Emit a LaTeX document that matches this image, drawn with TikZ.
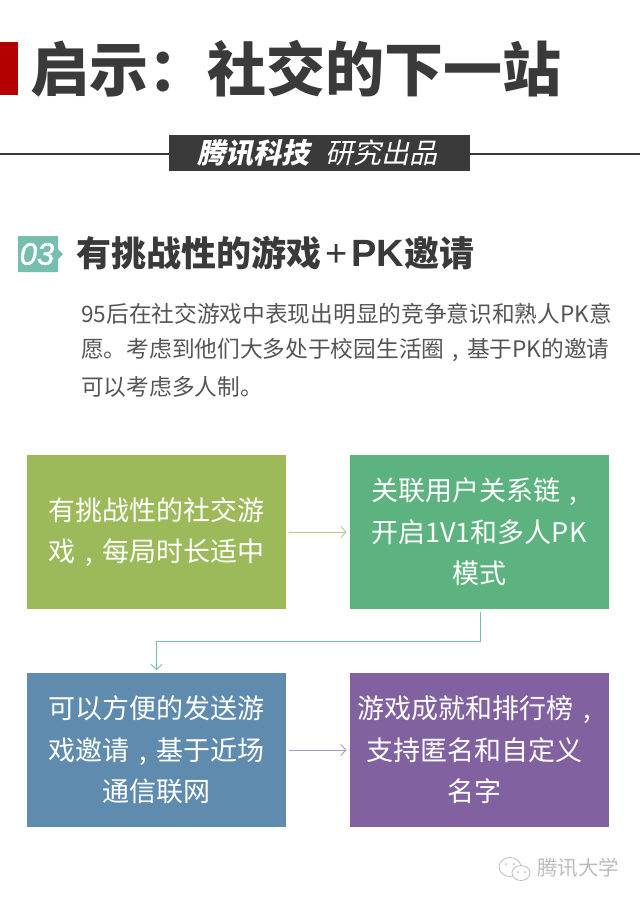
\documentclass[tikz,border=0pt]{standalone}
\usepackage{fontspec}
\setmainfont{Noto Sans CJK SC}
\newfontfamily\slantfont[FakeSlant=0.22, BoldFeatures={FakeSlant=0.22}]{Noto Sans CJK SC}
\newfontfamily\latinfont{Liberation Sans}
\newfontfamily\badgefont[ItalicFeatures={FakeBold=1.2}]{Liberation Sans}
\usetikzlibrary{arrows.meta}
\definecolor{titlegray}{HTML}{3A3A3A}
\definecolor{bodygray}{HTML}{555555}
\definecolor{barred}{HTML}{B50000}
\definecolor{badgeteal}{HTML}{76BFAE}
\definecolor{boxolive}{HTML}{9CBA59}
\definecolor{boxgreen}{HTML}{5CB37F}
\definecolor{boxblue}{HTML}{5F8BAE}
\definecolor{boxpurple}{HTML}{8161A0}
\definecolor{markgray}{HTML}{BDBDBD}
\newcommand{\widecomma}{\makebox[1em][c]{,}}
\tikzset{
	flowbox/.style={minimum width=259pt, minimum height=154pt, inner sep=0pt, outer sep=0pt, text=white, align=center, font=\fontsize{27}{41.6}\selectfont},
	flowline/.style={line width=0.9pt, -{Straight Barb[length=5pt, width=11pt, line width=0.9pt]}, shorten >=3pt, shorten <=3pt},
	bodyline/.style={anchor=west, inner sep=0pt, text=bodygray, font=\fontsize{22.7}{27}\selectfont},
}

\begin{document}
\begin{tikzpicture}[x=1pt, y=-1pt]
			\useasboundingbox[fill=white] (0, 0) rectangle (640, 900);
			% title
			\fill[barred] (0, 42) rectangle (18, 95);
			\node[anchor=west, inner sep=0pt, text=titlegray] (title) at (30, 69) {\fontsize{59}{60}\selectfont\bfseries 启示^^^^ff1a社交的下一站};
			% banner
			\node[minimum width=301pt, minimum height=36pt, inner sep=0pt, outer sep=0pt, fill=titlegray] (banner) at (319.5, 153) {};
			\coordinate (ruleleft) at (0, 154);
			\coordinate (ruleright) at (640, 154);
			\draw[titlegray, line width=1.6pt] (ruleleft) -- (ruleleft -| banner.west);
			\draw[titlegray, line width=1.6pt] (ruleright -| banner.east) -- (ruleright);
			\node[anchor=west, inner sep=0pt, text=white] (brand) at (197, 153) {\fontsize{28}{30}\selectfont\slantfont\bfseries 腾讯科技};
			\node[anchor=west, inner sep=0pt, text=white] (byline) at (325, 153) {\fontsize{28}{30}\selectfont\slantfont 研究出品};
			% section head
			\fill[badgeteal] (18, 236) -- (58, 236) -- (58, 249) -- (63, 254) -- (58, 259) -- (58, 272) -- (18, 272) -- cycle;
			\node[inner sep=0pt, text=white] (badge) at (37, 254) {\fontsize{31}{33}\selectfont\badgefont\itshape 03};
			\node[anchor=west, inner sep=0pt, text=titlegray] (heading) at (76, 253) {\fontsize{35}{37}\selectfont\bfseries 有挑战性的游戏{\latinfont\fontsize{38}{40}\selectfont\mdseries\hspace{4pt}+\hspace{4pt}\bfseries PK}邀请};
			% paragraph
			\node[bodyline] (lineone) at (81, 314) {95后在社交游戏中表现出明显的竞争意识和熟人PK意};
			\node[bodyline] (linetwo) at (81, 350) {愿。考虑到他们大多处于校园生活圈\widecomma 基于PK的邀请};
			\node[bodyline] (linethree) at (81, 387) {可以考虑多人制。};
			% boxes
			\node[flowbox, fill=boxolive] (gamebox) at (156.5, 532) {有挑战性的社交游\\戏\widecomma 每局时长适中};
			\node[flowbox, fill=boxgreen] (linkbox) at (479, 532) {关联用户关系链\widecomma\\开启1V1和多人PK\\模式};
			\node[flowbox, fill=boxblue] (invitebox) at (156.5, 750) {可以方便的发送游\\戏邀请\widecomma 基于近场\\通信联网};
			\node[flowbox, fill=boxpurple] (rankbox) at (479, 750) {游戏成就和排行榜\widecomma\\支持匿名和自定义\rule{10pt}{0pt}\\名字\rule{10pt}{0pt}};
			% connectors
			\draw[flowline, boxolive!75!white] (gamebox) -- (linkbox);
			\draw[flowline, boxpurple!65!white] (invitebox) -- (rankbox);
			\coordinate (turn) at (480, 641);
			\draw[flowline, badgeteal] (linkbox.south -| turn) -- (turn) -- (turn -| invitebox.north) -- (invitebox.north);
			% watermark
			\draw[markgray, line width=0.8pt, fill=white] (510, 867) ellipse (11pt and 9.5pt);
			\draw[markgray, line width=0.8pt, fill=white] (521, 873) ellipse (9pt and 7.5pt);
			\fill[markgray] (506, 864) circle (1pt) (514, 864) circle (1pt) (518, 872) circle (1pt) (525, 872) circle (1pt);
			\node[anchor=west, inner sep=0pt, text=markgray] (mark) at (537, 868) {\fontsize{20.5}{22}\selectfont 腾讯大学};
		\end{tikzpicture}
\end{document}
